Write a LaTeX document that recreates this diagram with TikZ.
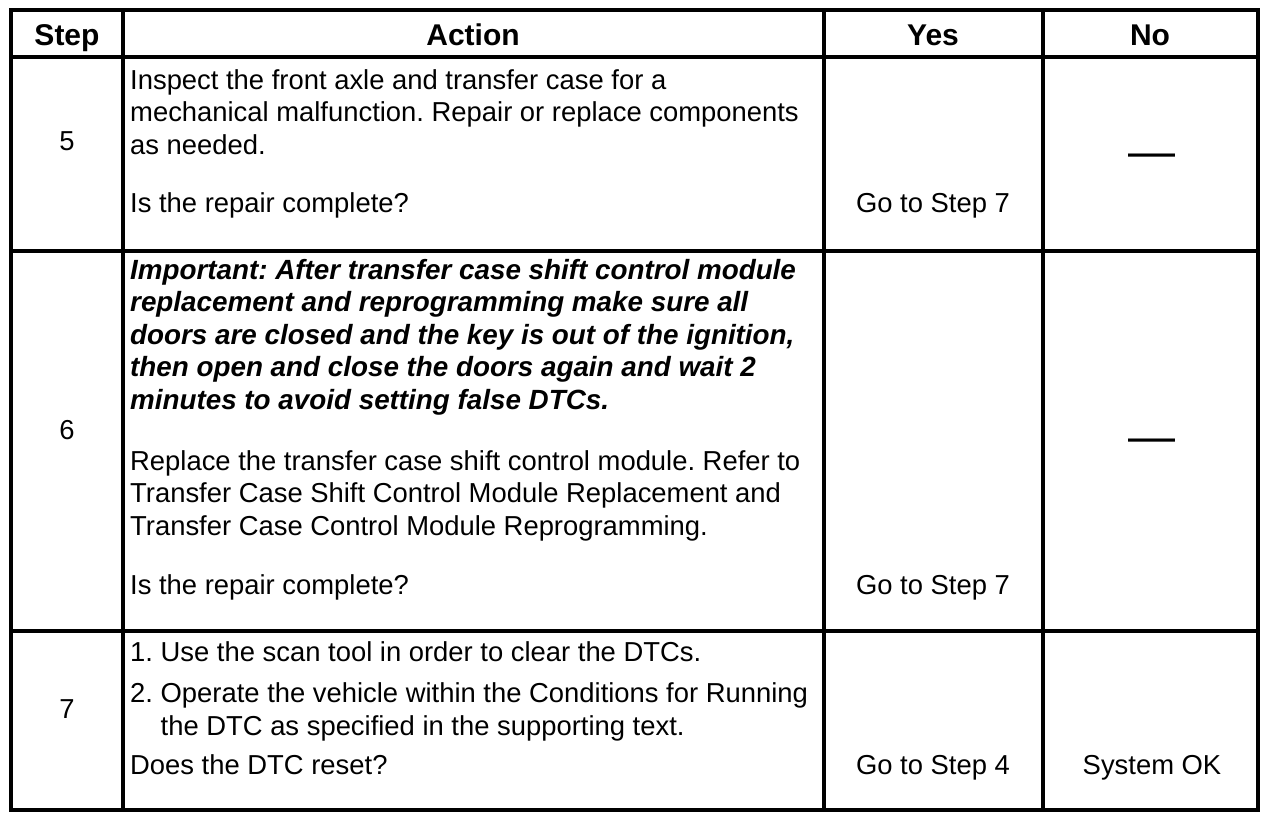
\documentclass[tikz,border=0pt]{standalone}
\usepackage{fontspec}
\setmainfont{Liberation Sans}
\usetikzlibrary{positioning}
\frenchspacing
\tikzstyle{rule}=[
	line width=4pt
]
\tikzstyle{head}=[
	anchor=base,
	inner sep=0pt,
	font=\fontsize{30}{34}\selectfont\bfseries
]
\tikzstyle{cell}=[
	anchor=base west,
	align=left,
	inner sep=0pt,
	font=\fontsize{27.4}{32.5}\selectfont
]
\tikzstyle{mid}=[
	anchor=base,
	inner sep=0pt,
	font=\fontsize{27.4}{32.5}\selectfont
]
\tikzstyle{nodash}=[
	anchor=base,
	inner sep=0pt,
	font=\fontsize{47}{50}\selectfont
]

\begin{document}
\begin{tikzpicture}[x=1pt,y=-1pt]
\useasboundingbox (0,0) rectangle (1280,822);
% grid
\draw [rule] (11,10) rectangle (1258,810);
\foreach \x in {123,824,1043}
	\draw [rule] (\x,10) -- (\x,810);
\foreach \y in {57,251,631}
	\draw [rule] (11,\y) -- (1258,\y);
% header
\node [head] (StepHead) at (67,45) {Step};
\node [head] (ActionHead) at (473,45) {Action};
\node [head] (YesHead) at (933,45) {Yes};
\node [head] (NoHead) at (1150,45) {No};
% step 5 (multi-line cells sit on their last baseline)
\node [mid] (Step5) at (67,150) {5};
\node [cell] (Inspect) at (130,154) {Inspect the front axle and transfer case for a\\mechanical malfunction. Repair or replace components\\as needed.};
\node [cell] (Ask5) at (130,212) {Is the repair complete?};
\node [mid] (Yes5) at (933,212) {Go to Step 7};
\node [nodash] (No5) at (1152,167) {—};
% step 6
\node [mid] (Step6) at (67,439) {6};
\node [cell, font=\fontsize{27.8}{32.5}\selectfont\bfseries\itshape] (Important) at (130,409) {Important: After transfer case shift control module\\replacement and reprogramming make sure all\\doors are closed and the key is out of the ignition,\\then open and close the doors again and wait 2\\minutes to avoid setting false DTCs.};
\node [cell] (Replace) at (130,535) {Replace the transfer case shift control module. Refer to\\Transfer Case Shift Control Module Replacement and\\Transfer Case Control Module Reprogramming.};
\node [cell] (Ask6) at (130,594) {Is the repair complete?};
\node [mid] (Yes6) at (933,594) {Go to Step 7};
\node [nodash] (No6) at (1152,452) {—};
% step 7
\node [mid] (Step7) at (67,718) {7};
\node [cell] (Clear) at (130,661) {1. Use the scan tool in order to clear the DTCs.};
\node [cell] (Operate) at (130,735) {2. Operate the vehicle within the Conditions for Running\\\phantom{2. }the DTC as specified in the supporting text.};
\node [cell] (Ask7) at (130,774) {Does the DTC reset?};
\node [mid] (Yes7) at (933,774) {Go to Step 4};
\node [mid] (No7) at (1152,774) {System OK};
\end{tikzpicture}
\end{document}
